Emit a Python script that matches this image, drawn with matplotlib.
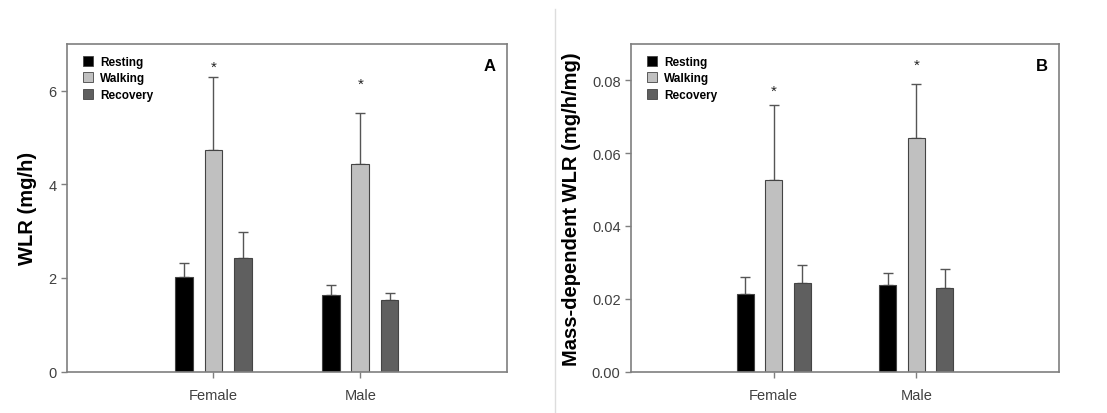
import numpy as np
import matplotlib.pyplot as plt
from matplotlib.patches import Patch
from matplotlib.lines import Line2D

plt.rcParams['font.family'] = ['Liberation Sans', 'DejaVu Sans']

groups = ["Female", "Male"]
conditions = ["Resting", "Walking", "Recovery"]
colors = ["#000000", "#c0c0c0", "#5f5f5f"]

# panel A: WLR (mg/h)
wlr_mean = {"Resting": [2.02, 1.64], "Walking": [4.73, 4.43], "Recovery": [2.42, 1.54]}
wlr_err = {"Resting": [0.31, 0.21], "Walking": [1.55, 1.10], "Recovery": [0.56, 0.14]}
wlr_star = [6.59, 6.21]

# panel B: mass-dependent WLR (mg/h/mg)
mwlr_mean = {"Resting": [0.0214, 0.0239], "Walking": [0.0525, 0.0642], "Recovery": [0.0244, 0.0230]}
mwlr_err = {"Resting": [0.0046, 0.0033], "Walking": [0.0207, 0.0147], "Recovery": [0.0050, 0.0053]}
mwlr_star = [0.0780, 0.0851]

fig = plt.figure(figsize=(11.07, 4.14), dpi=100)
W, H = 1107, 414
ax1 = fig.add_axes([66.7 / W, 1 - 372.7 / H, (507 - 66.7) / W, (372.7 - 44.7) / H])
ax2 = fig.add_axes([631 / W, 1 - 372.7 / H, (1059 - 631) / W, (372.7 - 44.7) / H])

# separator line between panels
fig.add_artist(Line2D([555 / W, 555 / W], [0, 1 - 10 / H], color="#dddddd", lw=1))

x = np.arange(len(groups))
offsets = [-0.2, 0.0, 0.2]
width = 0.12
edge = "#444444"
spine_c = "#7f7f7f"
tick_c = "#404040"


def draw(ax, means, errs, stars, ylim, yticks, fmt, ylabel, letter):
    for cond, off, col in zip(conditions, offsets, colors):
        ax.bar(x + off, means[cond], width, color=col, edgecolor=edge, lw=0.8,
               zorder=2, label=cond)
        m = np.array(means[cond])
        e = np.array(errs[cond])
        ax.errorbar(x + off, m, yerr=[np.zeros_like(e), e], fmt="none",
                    ecolor="#555555", elinewidth=1, capsize=3.5, capthick=1, zorder=1)
    for xi, s in zip(x, stars):
        ax.annotate("*", (xi, s), xytext=(0, -2.5), textcoords="offset points",
                    ha="center", va="center", fontsize=11, color="#222222")
    ax.set_xlim(-1, 2)
    ax.set_ylim(*ylim)
    ax.set_xticks(x)
    ax.set_xticklabels(groups)
    ax.set_yticks(yticks)
    ax.set_yticklabels([fmt.format(v) for v in yticks])
    ax.tick_params(axis="both", direction="out", length=4, color=spine_c,
                   labelcolor=tick_c, labelsize=10.5, width=1)
    ax.tick_params(axis="x", pad=8)
    for sp in ax.spines.values():
        sp.set_color(spine_c)
        sp.set_linewidth(1.2)
    ax.set_ylabel(ylabel, fontsize=14.5, fontweight="bold", labelpad=8)
    ax.text(0.975, 0.955, letter, transform=ax.transAxes, ha="right", va="top",
            fontsize=12, fontweight="bold")
    handles = [Patch(facecolor=c, edgecolor=edge, lw=0.6) for c in colors]
    ax.legend(handles, conditions, loc="upper left", frameon=False,
              prop={"size": 8.5, "weight": "bold"}, handlelength=0.9,
              handleheight=0.9, handletextpad=0.6, labelspacing=0.4,
              borderaxespad=0.2, bbox_to_anchor=(0.02, 0.985))


draw(ax1, wlr_mean, wlr_err, wlr_star, (0, 7), [0, 2, 4, 6], "{:g}",
     "WLR (mg/h)", "A")
draw(ax2, mwlr_mean, mwlr_err, mwlr_star, (0, 0.09), [0, 0.02, 0.04, 0.06, 0.08],
     "{:.2f}", "Mass-dependent WLR (mg/h/mg)", "B")

fig.savefig("out.png", dpi=100)
